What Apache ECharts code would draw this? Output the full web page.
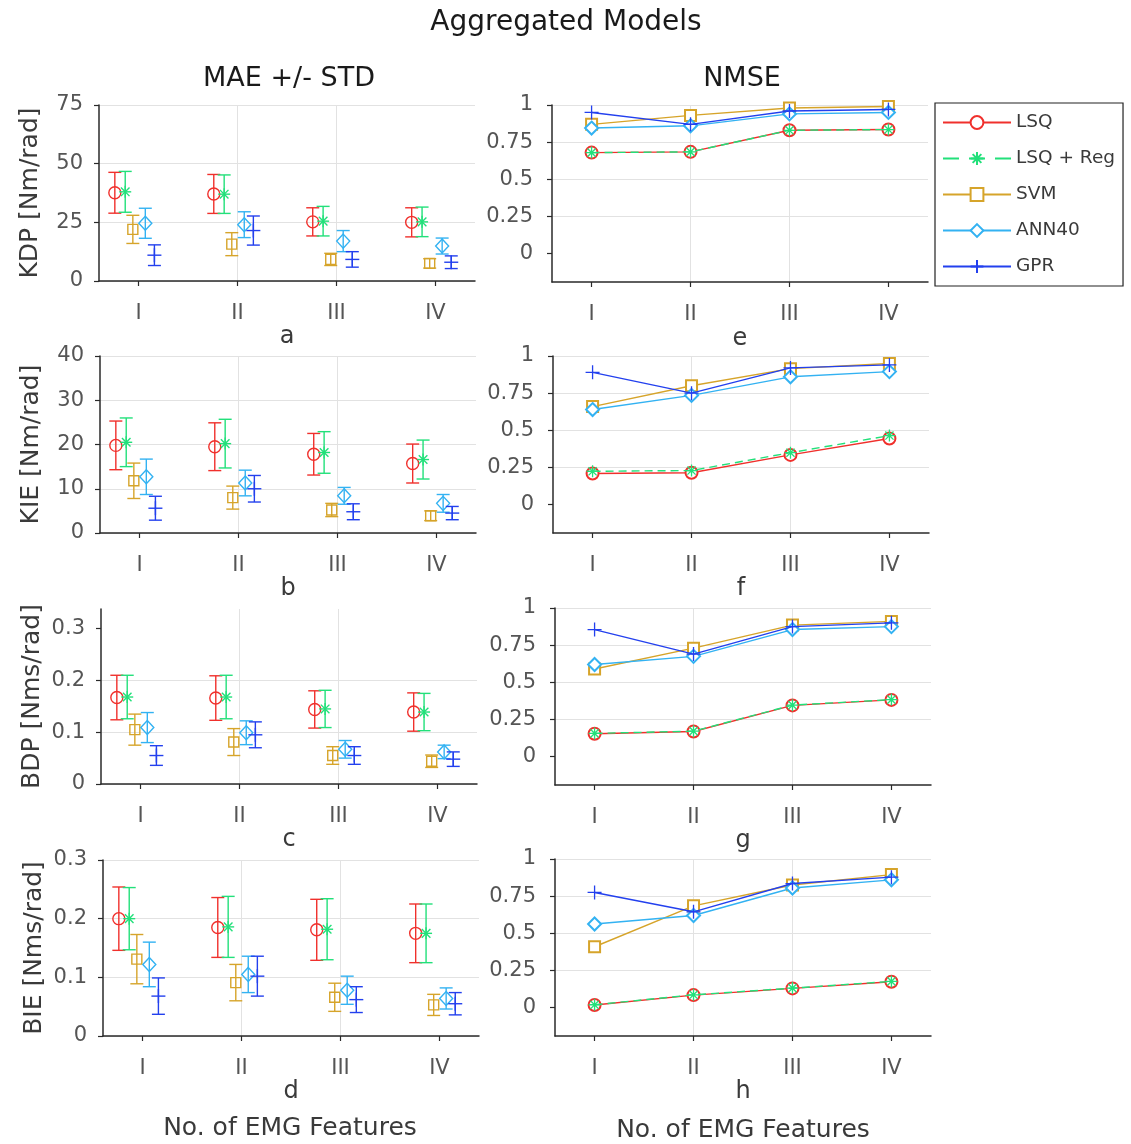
<!DOCTYPE html>
<html>
<head>
<meta charset="utf-8">
<title>Aggregated Models</title>
<script src="https://cdn.jsdelivr.net/npm/echarts@6/dist/echarts.min.js"></script>
<style>
  html, body { margin: 0; padding: 0; background: #fff; }
  #chart { width: 1131px; height: 1144px; }
</style>
</head>
<body>
<div id="chart"></div>
<script>
// Feature-set categories on the x axis
const categories = ['I', 'II', 'III', 'IV'];
const featureIndex = [1, 2, 3, 4];

// Regression models (row order of every table below)
const models = ['LSQ', 'LSQ + Reg', 'SVM', 'ANN40', 'GPR'];

// MAE mean / std per model (rows) and feature set (columns)
const kdpMean = [
  [37.6, 37.1, 25.2, 25.0],
  [38.0, 37.0, 25.5, 25.2],
  [22.0, 15.7, 9.2, 7.5],
  [24.6, 24.0, 17.0, 14.9],
  [11.0, 21.5, 9.2, 8.0]
];
const kdpStd = [
  [8.7, 8.3, 6.0, 6.2],
  [8.7, 8.2, 6.3, 6.3],
  [6.0, 4.9, 2.6, 2.0],
  [6.4, 5.5, 4.5, 3.4],
  [4.4, 6.2, 3.3, 2.7]
];
const kieMean = [
  [19.8, 19.5, 17.8, 15.7],
  [20.5, 20.2, 18.2, 16.6],
  [11.8, 8.0, 5.2, 3.9],
  [12.7, 11.3, 8.4, 6.7],
  [5.6, 10.0, 4.8, 4.5]
];
const kieStd = [
  [5.5, 5.4, 4.7, 4.4],
  [5.5, 5.5, 4.7, 4.4],
  [4.0, 2.6, 1.5, 1.1],
  [4.0, 2.9, 1.9, 2.0],
  [2.7, 3.0, 1.8, 1.5]
];
const bdpMean = [
  [0.167, 0.166, 0.144, 0.139],
  [0.168, 0.168, 0.145, 0.139],
  [0.105, 0.081, 0.055, 0.044],
  [0.109, 0.099, 0.067, 0.062],
  [0.055, 0.095, 0.055, 0.048]
];
const bdpStd = [
  [0.043, 0.043, 0.036, 0.037],
  [0.042, 0.042, 0.036, 0.036],
  [0.030, 0.026, 0.017, 0.012],
  [0.029, 0.023, 0.017, 0.013],
  [0.019, 0.025, 0.017, 0.014]
];
const bieMean = [
  [0.200, 0.185, 0.181, 0.175],
  [0.200, 0.186, 0.182, 0.175],
  [0.131, 0.091, 0.066, 0.053],
  [0.122, 0.105, 0.078, 0.064],
  [0.068, 0.102, 0.062, 0.055]
];
const bieStd = [
  [0.054, 0.051, 0.052, 0.050],
  [0.053, 0.052, 0.052, 0.050],
  [0.042, 0.031, 0.024, 0.018],
  [0.038, 0.031, 0.024, 0.018],
  [0.031, 0.034, 0.022, 0.019]
];

// NMSE per model (rows) and feature set (columns)
const nmseKDP = [
  [0.680, 0.685, 0.830, 0.835],
  [0.680, 0.685, 0.830, 0.835],
  [0.870, 0.930, 0.980, 0.990],
  [0.845, 0.860, 0.940, 0.950],
  [0.950, 0.870, 0.960, 0.970]
];
const nmseKIE = [
  [0.210, 0.215, 0.335, 0.445],
  [0.225, 0.230, 0.350, 0.465],
  [0.660, 0.800, 0.915, 0.950],
  [0.640, 0.735, 0.860, 0.895],
  [0.890, 0.750, 0.920, 0.940]
];
const nmseBDP = [
  [0.155, 0.170, 0.345, 0.382],
  [0.157, 0.172, 0.347, 0.384],
  [0.590, 0.730, 0.885, 0.910],
  [0.620, 0.675, 0.855, 0.875],
  [0.855, 0.690, 0.875, 0.900]
];
const nmseBIE = [
  [0.018, 0.085, 0.130, 0.175],
  [0.020, 0.087, 0.132, 0.177],
  [0.410, 0.685, 0.825, 0.895],
  [0.563, 0.620, 0.805, 0.860],
  [0.775, 0.645, 0.835, 0.878]
];

// Tick values
const maeTicksKDP = [0, 25, 50, 75];
const maeTicksKIE = [0, 10, 20, 30, 40];
const maeTicksBDP = [0, 0.1, 0.2, 0.3];
const maeTicksBIE = [0, 0.1, 0.2, 0.3];
const nmseTicks = [0, 0.25, 0.5, 0.75, 1];

// ---- styling ----
const FONT = 'DejaVu Sans';
const colors = ['#f0302c', '#22e07a', '#d6a42a', '#33b2f2', '#2340ee'];
const dodge = [-0.24, -0.135, -0.058, 0.068, 0.16];
const AXIS_COLOR = '#2a2a2a';
const GRID_COLOR = '#e2e2e2';
const LABEL_COLOR = '#555555';
const TEXT_COLOR = '#3a3a3a';

const asteriskPath = 'path://M5,0L5,10M0,5L10,5M1.6,1.6L8.4,8.4M1.6,8.4L8.4,1.6';
const plusPath = 'path://M5,0L5,10M0,5L10,5';
const lineSymbols = ['emptyCircle', asteriskPath, 'emptyRect', 'emptyDiamond', plusPath];
const lineSymbolSizes = [12, 12, 11, 13, 14];

const grids = [
  { left: 99,  top: 105, width: 376, height: 176 },
  { left: 100, top: 356, width: 376, height: 177 },
  { left: 101, top: 609, width: 376, height: 175 },
  { left: 103, top: 860, width: 376, height: 176 },
  { left: 552, top: 105, width: 376, height: 177 },
  { left: 553, top: 356, width: 376, height: 177 },
  { left: 555, top: 608, width: 376, height: 177 },
  { left: 555, top: 859, width: 376, height: 177 }
];

const leftPanels = [
  { mean: kdpMean, std: kdpStd, name: 'KDP [Nm/rad]',  max: 75, interval: 25, ticks: maeTicksKDP, letter: 'a', gap: 39 },
  { mean: kieMean, std: kieStd, name: 'KIE [Nm/rad]',  max: 40, interval: 10, ticks: maeTicksKIE, letter: 'b', gap: 39 },
  { mean: bdpMean, std: bdpStd, name: 'BDP [Nms/rad]', max: 0.338, interval: 0.1, ticks: maeTicksBDP, letter: 'c', gap: 39 },
  { mean: bieMean, std: bieStd, name: 'BIE [Nms/rad]', max: 0.3, interval: 0.1, ticks: maeTicksBIE, letter: 'd', gap: 39 }
];
const rightPanels = [
  { nmse: nmseKDP, letter: 'e', gap: 45 },
  { nmse: nmseKIE, letter: 'f', gap: 37 },
  { nmse: nmseBDP, letter: 'g', gap: 37 },
  { nmse: nmseBIE, letter: 'h', gap: 42 }
];

function fmtTick(ticks) {
  return function (v) {
    for (const t of ticks) {
      if (Math.abs(v - t) < 1e-9) return String(t);
    }
    return '';
  };
}

function makeXAxis(gridIndex, letter, gap) {
  return {
    gridIndex: gridIndex,
    type: 'value',
    min: 0.6,
    max: 4.4,
    minInterval: 1,
    maxInterval: 1,
    axisLine: { onZero: false, lineStyle: { color: AXIS_COLOR, width: 1.5 } },
    axisTick: { show: true, length: 5, customValues: featureIndex, lineStyle: { color: AXIS_COLOR, width: 1.2 } },
    axisLabel: {
      customValues: featureIndex,
      margin: 22,
      fontFamily: FONT, fontSize: 21, color: LABEL_COLOR,
      formatter: function (v) {
        const i = Math.round(v);
        return Math.abs(v - i) < 1e-9 && i >= 1 && i <= 4 ? categories[i - 1] : '';
      }
    },
    splitLine: { show: true, showMinLine: false, showMaxLine: false, lineStyle: { color: GRID_COLOR, width: 1 } },
    name: letter,
    nameLocation: 'middle',
    nameGap: gap,
    nameTextStyle: { fontFamily: FONT, fontSize: 24, color: TEXT_COLOR, lineHeight: 24 }
  };
}

const xAxes = [];
const yAxes = [];
const series = [];

// right column: NMSE line charts (added first so the legend uses their line+marker icons)
rightPanels.forEach(function (p, k) {
  const g = 4 + k;
  xAxes.push(makeXAxis(g, p.letter, p.gap));
  yAxes.push({
    gridIndex: g,
    type: 'value',
    min: -0.19,
    max: 1,
    minInterval: 0.25,
    maxInterval: 0.25,
    axisLine: { show: true, onZero: false, lineStyle: { color: AXIS_COLOR, width: 1.5 } },
    axisTick: { show: true, length: 5, customValues: nmseTicks, lineStyle: { color: AXIS_COLOR, width: 1.2 } },
    axisLabel: { customValues: nmseTicks, margin: 19, fontFamily: FONT, fontSize: 21, color: LABEL_COLOR, formatter: fmtTick(nmseTicks) },
    splitLine: { show: true, showMinLine: false, lineStyle: { color: GRID_COLOR, width: 1 } }
  });
  models.forEach(function (m, i) {
    series.push({
      name: m,
      type: 'line',
      xAxisIndex: g,
      yAxisIndex: g,
      data: p.nmse[i].map(function (v, j) { return [featureIndex[j], v]; }),
      symbol: lineSymbols[i],
      symbolSize: lineSymbolSizes[i],
      showAllSymbol: true,
      color: colors[i],
      lineStyle: { color: colors[i], width: 1.4, type: i === 1 ? [8, 5] : 'solid' },
      itemStyle: { color: colors[i], borderColor: colors[i], borderWidth: 1.3 },
      emphasis: { disabled: true },
      animation: false,
      z: 2 + i
    });
  });
});

// left column: MAE mean +/- std with error bars
function drawMarker(kind, cx, cy, style) {
  const h = 6;
  switch (kind) {
    case 0:
      return [{ type: 'circle', shape: { cx: cx, cy: cy, r: 6 }, style: style }];
    case 1: {
      const d = 4.3;
      return [
        { type: 'line', shape: { x1: cx, y1: cy - h, x2: cx, y2: cy + h }, style: style },
        { type: 'line', shape: { x1: cx - h, y1: cy, x2: cx + h, y2: cy }, style: style },
        { type: 'line', shape: { x1: cx - d, y1: cy - d, x2: cx + d, y2: cy + d }, style: style },
        { type: 'line', shape: { x1: cx - d, y1: cy + d, x2: cx + d, y2: cy - d }, style: style }
      ];
    }
    case 2:
      return [{ type: 'rect', shape: { x: cx - 5, y: cy - 5, width: 10, height: 10 }, style: style }];
    case 3:
      return [{ type: 'polygon', shape: { points: [[cx, cy - 7], [cx + 6.5, cy], [cx, cy + 7], [cx - 6.5, cy]] }, style: style }];
    default:
      return [
        { type: 'line', shape: { x1: cx, y1: cy - 7, x2: cx, y2: cy + 7 }, style: style },
        { type: 'line', shape: { x1: cx - 7, y1: cy, x2: cx + 7, y2: cy }, style: style }
      ];
  }
}

function errorBarRenderer(modelIdx) {
  return function (params, api) {
    const x = api.value(0) + dodge[modelIdx];
    const mean = api.value(1);
    const sd = api.value(2);
    const c = api.coord([x, mean]);
    const hi = api.coord([x, mean + sd]);
    const lo = api.coord([x, mean - sd]);
    const cap = 6.5;
    const style = { stroke: colors[modelIdx], lineWidth: 1.4, fill: 'none' };
    const children = [
      { type: 'line', shape: { x1: c[0], y1: hi[1], x2: c[0], y2: lo[1] }, style: style },
      { type: 'line', shape: { x1: c[0] - cap, y1: hi[1], x2: c[0] + cap, y2: hi[1] }, style: style },
      { type: 'line', shape: { x1: c[0] - cap, y1: lo[1], x2: c[0] + cap, y2: lo[1] }, style: style }
    ].concat(drawMarker(modelIdx, c[0], c[1], style));
    return { type: 'group', children: children };
  };
}

leftPanels.forEach(function (p, k) {
  const g = k;
  xAxes.push(makeXAxis(g, p.letter, p.gap));
  yAxes.push({
    gridIndex: g,
    type: 'value',
    min: 0,
    max: p.max,
    interval: p.interval,
    axisLine: { show: true, onZero: false, lineStyle: { color: AXIS_COLOR, width: 1.5 } },
    axisTick: { show: true, length: 5, customValues: p.ticks, lineStyle: { color: AXIS_COLOR, width: 1.2 } },
    axisLabel: { customValues: p.ticks, margin: 16, fontFamily: FONT, fontSize: 21, color: LABEL_COLOR, formatter: fmtTick(p.ticks) },
    splitLine: { show: true, showMaxLine: p.max === p.ticks[p.ticks.length - 1], lineStyle: { color: GRID_COLOR, width: 1 } },
    name: p.name,
    nameLocation: 'middle',
    nameGap: 56,
    nameTextStyle: { fontFamily: FONT, fontSize: 25, color: TEXT_COLOR }
  });
  models.forEach(function (m, i) {
    series.push({
      name: m,
      type: 'custom',
      xAxisIndex: g,
      yAxisIndex: g,
      data: p.mean[i].map(function (v, j) { return [featureIndex[j], v, p.std[i][j]]; }),
      encode: { x: 0, y: 1 },
      renderItem: errorBarRenderer(i),
      animation: false,
      z: 2 + i
    });
  });
});

// axes are pushed right-then-left; reorder so that index == gridIndex
xAxes.sort(function (a, b) { return a.gridIndex - b.gridIndex; });
yAxes.sort(function (a, b) { return a.gridIndex - b.gridIndex; });

const headingStyle = { fontFamily: FONT, fontSize: 27, fontWeight: 'normal', color: '#1a1a1a' };
const mainStyle = { fontFamily: FONT, fontSize: 28, fontWeight: 'normal', color: '#1a1a1a' };
const footStyle = { fontFamily: FONT, fontSize: 25, fontWeight: 'normal', color: TEXT_COLOR };

const legendData = models.map(function (m, i) {
  return i === 1 ? { name: m, lineStyle: { type: [16, 10] } } : { name: m };
});

const chart = echarts.init(document.getElementById('chart'), null, { renderer: 'canvas' });
chart.setOption({
  backgroundColor: '#ffffff',
  animation: false,
  title: [
    { text: 'Aggregated Models', left: 561, top: 4, textAlign: 'center', textStyle: mainStyle },
    { text: 'MAE +/- STD', left: 284, top: 60, textAlign: 'center', textStyle: headingStyle },
    { text: 'NMSE', left: 737, top: 60, textAlign: 'center', textStyle: headingStyle },
    { text: 'No. of EMG Features', left: 285, top: 1111, textAlign: 'center', textStyle: footStyle },
    { text: 'No. of EMG Features', left: 738, top: 1113, textAlign: 'center', textStyle: footStyle }
  ],
  legend: {
    data: legendData,
    orient: 'vertical',
    left: 935,
    top: 103,
    padding: [10, 8, 10, 7],
    itemWidth: 68,
    itemHeight: 16,
    itemGap: 17,
    borderColor: '#222',
    borderWidth: 1.2,
    borderRadius: 0,
    selectedMode: false,
    textStyle: { fontFamily: FONT, fontSize: 18.5, color: TEXT_COLOR }
  },
  grid: grids,
  xAxis: xAxes,
  yAxis: yAxes,
  series: series
});
</script>
</body>
</html>
